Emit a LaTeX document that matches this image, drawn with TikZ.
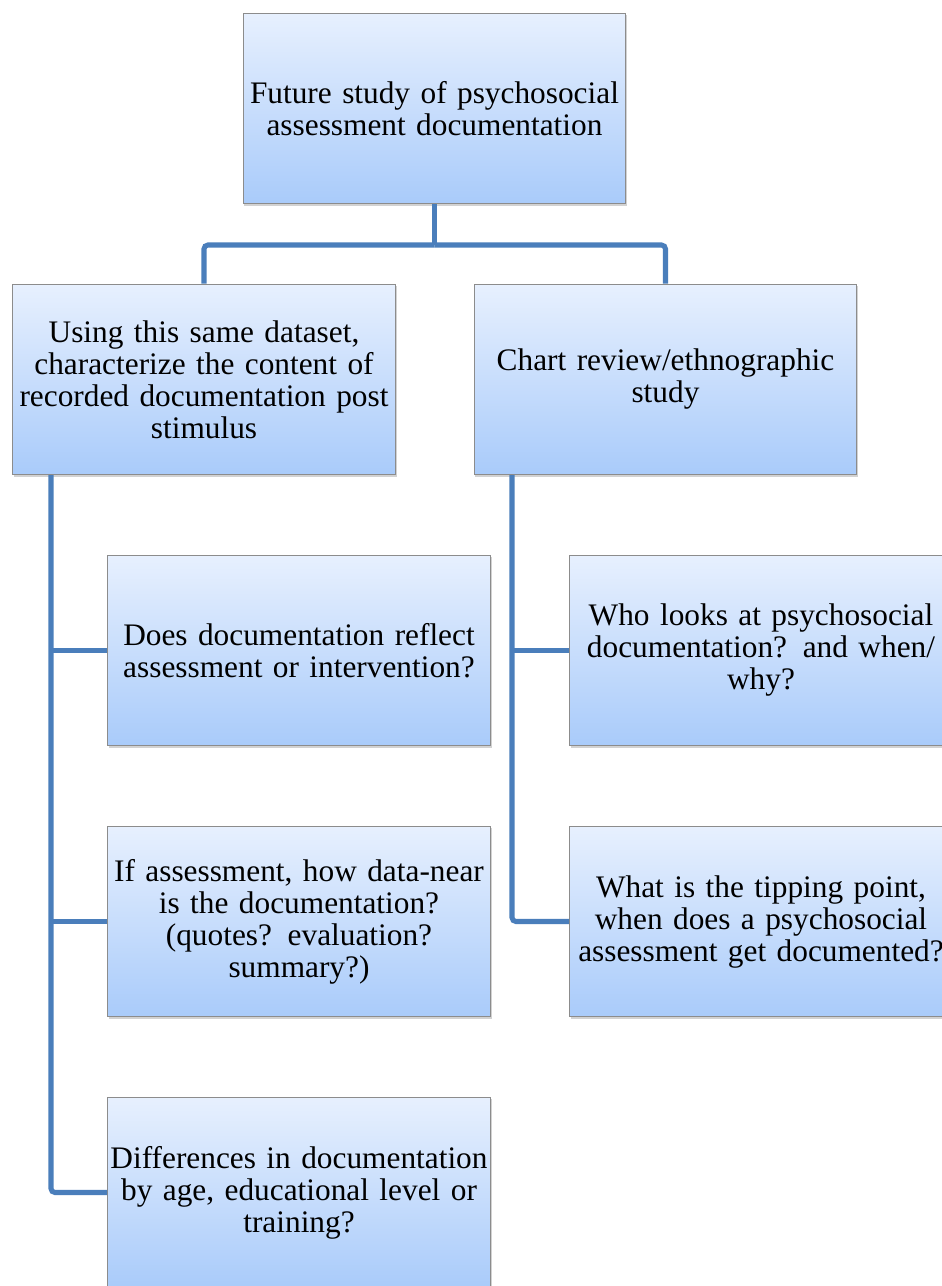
\documentclass[tikz,border=0pt]{standalone}
\usepackage{fontspec}
\setmainfont{Liberation Serif}
\usetikzlibrary{shadows}

\definecolor{linkblue}{RGB}{74,126,187}
\definecolor{boxtop}{RGB}{231,240,254}
\definecolor{boxbottom}{RGB}{169,203,250}
\definecolor{boxedge}{RGB}{140,140,140}

\tikzset{
  qbox/.style={draw=boxedge, line width=0.9pt, top color=boxtop, bottom color=boxbottom,
    drop shadow={shadow xshift=0.9pt, shadow yshift=-1.6pt, opacity=0.35},
    minimum width=287pt, minimum height=143pt, text width=285pt, inner sep=1pt,
    align=center, font=\rmfamily\fontsize{23.5}{24}\selectfont},
  link/.style={draw=linkblue, line width=3.8pt}
}

\begin{document}
\begin{tikzpicture}[x=0.75pt,y=-0.75pt]
    % Page frame
    \clip (0,0) rectangle (942,1286);
    \fill[white] (0,0) rectangle (942,1286);

    % Free ends of the tree lines
    \coordinate (split) at (434.5,245);
    \coordinate (lspine) at (51,475);
    \coordinate (rspine) at (512,475);

    % Boxes
    \node[qbox] (root) at (434.5,108.5) {Future study of psychosocial\\assessment documentation};

    \node[qbox] (dataset) at (204,379.5) {Using this same dataset,\\characterize the content of\\recorded documentation post\\stimulus};
    \node[qbox] (chart) at (665.5,379.5) {Chart review/ethnographic\\study};

    \node[qbox] (reflect) at (299,650.5) {Does documentation reflect\\assessment or intervention?};
    \node[qbox] (near) at (299,921.5) {If assessment, how data-near\\is the documentation?\\(quotes? evaluation?\\summary?)};
    \node[qbox] (differ) at (299,1192.5) {Differences in documentation\\by age, educational level or\\training?};

    \node[qbox] (looks) at (761,650.5) {Who looks at psychosocial\\documentation? and when/\\why?};
    \node[qbox] (tipping) at (761,921.5) {What is the tipping point,\\when does a psychosocial\\assessment get documented?};

    % Tree lines
    \draw[link] (root.south) -- (split);
    \draw[link, rounded corners=3pt] (split) -| (dataset.north);
    \draw[link, rounded corners=3pt] (split) -| (chart.north);

    \draw[link, rounded corners=3pt] (lspine) |- (differ.west);
    \draw[link] (lspine |- reflect.west) -- (reflect.west);
    \draw[link] (lspine |- near.west) -- (near.west);

    \draw[link, rounded corners=3pt] (rspine) |- (tipping.west);
    \draw[link] (rspine |- looks.west) -- (looks.west);
\end{tikzpicture}
\end{document}
